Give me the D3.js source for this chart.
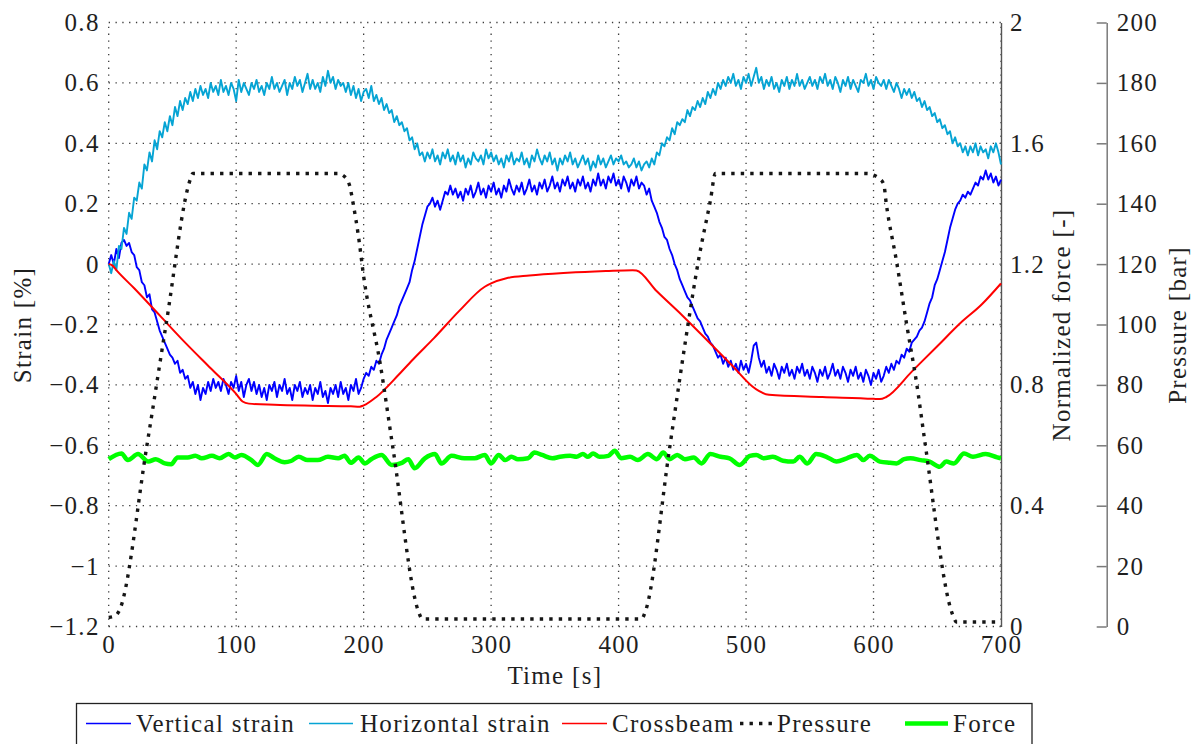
<!DOCTYPE html>
<html>
<head>
<meta charset="utf-8">
<script src="https://cdn.jsdelivr.net/npm/d3@7"></script>
<style>
  html, body { margin: 0; padding: 0; background: #fff; }
  svg { display: block; }
  svg text { font-family: "Liberation Serif", "DejaVu Serif", "Times New Roman", serif; letter-spacing: 1.3px; }
</style>
</head>
<body>
<svg id="chart" width="1199" height="744"></svg>
<script>
// ---- tick values ----
const timeTicks = [0, 100, 200, 300, 400, 500, 600, 700];
const strainTicks = [-1.2, -1, -0.8, -0.6, -0.4, -0.2, 0, 0.2, 0.4, 0.6, 0.8];
const forceTicks = [0, 0.4, 0.8, 1.2, 1.6, 2];
const pressureTicks = [0, 20, 40, 60, 80, 100, 120, 140, 160, 180, 200];

// ---- measured signals: strain gauges sampled every 2 s from t = 0 ----
const sampleStep = 2;
const verticalStrain = [
  0.00,0.03,0.00,0.05,0.02, 0.07,0.08,0.06,0.07,0.04, 0.03,-0.01,-0.02,-0.06,-0.07, -0.11,-0.10,-0.15,-0.16,-0.19, -0.22,-0.24,-0.26,-0.28,-0.30,
  -0.31,-0.33,-0.32,-0.36,-0.35, -0.38,-0.37,-0.41,-0.39,-0.43, -0.40,-0.45,-0.41,-0.43,-0.39, -0.42,-0.38,-0.41,-0.39,-0.42, -0.38,-0.40,-0.43,-0.39,-0.41,
  -0.37,-0.42,-0.39,-0.44,-0.40, -0.38,-0.42,-0.39,-0.43,-0.40, -0.44,-0.41,-0.45,-0.40,-0.42, -0.39,-0.44,-0.40,-0.42,-0.38, -0.43,-0.41,-0.45,-0.40,-0.42,
  -0.39,-0.44,-0.41,-0.43,-0.40, -0.45,-0.41,-0.43,-0.39,-0.44, -0.42,-0.46,-0.41,-0.43,-0.40, -0.44,-0.39,-0.43,-0.41,-0.45, -0.40,-0.42,-0.38,-0.43,-0.41,
  -0.38,-0.36,-0.37,-0.34,-0.35, -0.32,-0.33,-0.30,-0.28,-0.25, -0.23,-0.21,-0.19,-0.17,-0.14, -0.12,-0.10,-0.08,-0.06,-0.02, 0.01,0.05,0.09,0.13,0.16,
  0.19,0.20,0.22,0.19,0.21, 0.18,0.21,0.24,0.23,0.26, 0.23,0.25,0.22,0.24,0.21, 0.25,0.23,0.26,0.22,0.24, 0.27,0.23,0.25,0.22,0.26,
  0.24,0.27,0.23,0.25,0.22, 0.26,0.24,0.28,0.25,0.23, 0.26,0.24,0.27,0.23,0.25, 0.28,0.24,0.26,0.23,0.27, 0.25,0.28,0.24,0.26,0.29,
  0.25,0.27,0.24,0.28,0.26, 0.29,0.25,0.27,0.24,0.28, 0.26,0.29,0.25,0.27,0.24, 0.28,0.26,0.30,0.26,0.28, 0.25,0.29,0.27,0.30,0.26,
  0.28,0.25,0.29,0.27,0.24, 0.28,0.26,0.29,0.25,0.27, 0.26,0.23,0.25,0.21,0.19, 0.17,0.14,0.12,0.09,0.08, 0.05,0.03,0.00,-0.02,-0.05,
  -0.07,-0.09,-0.11,-0.12,-0.14, -0.16,-0.18,-0.19,-0.21,-0.23, -0.24,-0.26,-0.27,-0.29,-0.31, -0.30,-0.33,-0.31,-0.34,-0.32, -0.35,-0.33,-0.36,-0.32,-0.35,
  -0.33,-0.36,-0.32,-0.27,-0.26, -0.31,-0.34,-0.32,-0.36,-0.34, -0.37,-0.33,-0.35,-0.38,-0.34, -0.36,-0.33,-0.37,-0.35,-0.38, -0.34,-0.36,-0.33,-0.37,-0.35,
  -0.38,-0.34,-0.36,-0.39,-0.35, -0.37,-0.34,-0.38,-0.36,-0.33, -0.37,-0.35,-0.38,-0.34,-0.36, -0.39,-0.35,-0.37,-0.34,-0.38, -0.36,-0.39,-0.35,-0.37,-0.40,
  -0.36,-0.38,-0.35,-0.39,-0.37, -0.34,-0.36,-0.33,-0.35,-0.32, -0.33,-0.30,-0.31,-0.28,-0.29, -0.26,-0.25,-0.24,-0.22,-0.21, -0.19,-0.16,-0.13,-0.11,-0.07,
  -0.05,-0.02,0.01,0.04,0.08, 0.12,0.15,0.18,0.20,0.21, 0.23,0.22,0.24,0.23,0.25, 0.27,0.26,0.29,0.28,0.31, 0.28,0.30,0.27,0.29,0.26,
  0.28
];
const horizontalStrain = [
  0.00,-0.03,0.01,-0.02,0.06, 0.05,0.12,0.10,0.17,0.15, 0.22,0.21,0.27,0.25,0.33, 0.31,0.37,0.34,0.41,0.38, 0.44,0.42,0.47,0.44,0.49,
  0.46,0.52,0.49,0.54,0.51, 0.55,0.53,0.57,0.54,0.58, 0.55,0.59,0.56,0.58,0.55, 0.60,0.57,0.59,0.56,0.61, 0.57,0.59,0.56,0.60,0.58,
  0.54,0.61,0.57,0.60,0.58, 0.56,0.60,0.58,0.61,0.57, 0.59,0.56,0.60,0.58,0.62, 0.58,0.60,0.57,0.59,0.61, 0.56,0.60,0.58,0.62,0.59,
  0.61,0.57,0.60,0.63,0.58, 0.61,0.58,0.60,0.57,0.62, 0.59,0.64,0.60,0.62,0.58, 0.61,0.59,0.60,0.57,0.60, 0.56,0.59,0.55,0.58,0.54,
  0.57,0.58,0.55,0.59,0.54, 0.56,0.53,0.55,0.51,0.53, 0.50,0.51,0.47,0.49,0.46, 0.47,0.44,0.45,0.41,0.42, 0.38,0.40,0.36,0.37,0.34,
  0.37,0.35,0.38,0.34,0.36, 0.33,0.37,0.35,0.38,0.34, 0.36,0.33,0.37,0.34,0.36, 0.32,0.35,0.33,0.37,0.35, 0.34,0.36,0.33,0.38,0.35,
  0.37,0.34,0.36,0.33,0.35, 0.32,0.36,0.34,0.37,0.33, 0.35,0.34,0.37,0.33,0.35, 0.32,0.36,0.34,0.38,0.35, 0.33,0.36,0.34,0.37,0.33,
  0.35,0.31,0.35,0.33,0.36, 0.34,0.37,0.33,0.35,0.32, 0.34,0.36,0.33,0.35,0.31, 0.34,0.32,0.36,0.33,0.35, 0.32,0.34,0.36,0.33,0.35,
  0.34,0.36,0.33,0.34,0.32, 0.33,0.35,0.32,0.34,0.31, 0.33,0.34,0.32,0.35,0.33, 0.37,0.36,0.40,0.39,0.42, 0.41,0.45,0.43,0.47,0.46,
  0.48,0.47,0.51,0.49,0.52, 0.51,0.54,0.52,0.55,0.53, 0.57,0.55,0.58,0.56,0.60, 0.58,0.61,0.59,0.62,0.60, 0.63,0.59,0.61,0.58,0.62,
  0.60,0.63,0.59,0.62,0.65, 0.60,0.62,0.58,0.61,0.59, 0.62,0.58,0.60,0.57,0.61, 0.59,0.62,0.58,0.61,0.59, 0.63,0.59,0.61,0.58,0.60,
  0.62,0.59,0.61,0.58,0.62, 0.60,0.63,0.59,0.61,0.58, 0.62,0.60,0.57,0.61,0.59, 0.62,0.58,0.61,0.59,0.57, 0.61,0.60,0.63,0.59,0.61,
  0.58,0.62,0.60,0.59,0.61, 0.58,0.61,0.59,0.57,0.60, 0.58,0.55,0.58,0.56,0.58, 0.55,0.57,0.54,0.55,0.52, 0.54,0.51,0.52,0.49,0.50,
  0.47,0.48,0.45,0.46,0.43, 0.44,0.40,0.42,0.39,0.40, 0.37,0.39,0.36,0.39,0.37, 0.40,0.36,0.39,0.37,0.38, 0.35,0.39,0.37,0.40,0.37,
  0.33
];

// ---- crossbeam strain (smooth) ----
const crossbeamTime = [0, 3, 6, 20, 40, 60, 80, 100, 105, 110, 130, 160, 190, 197, 200, 210, 228, 240, 255, 275, 295, 300, 312, 330, 360, 390, 411, 414, 430, 450, 464, 490, 505, 510, 518, 560, 600, 605, 610, 630, 650, 668, 685, 700];
const crossbeamStrain = [0, -0.005, -0.02, -0.08, -0.17, -0.26, -0.345, -0.43, -0.455, -0.462, -0.466, -0.469, -0.471, -0.472, -0.468, -0.44, -0.364, -0.31, -0.246, -0.155, -0.075, -0.064, -0.047, -0.038, -0.029, -0.023, -0.02, -0.021, -0.09, -0.17, -0.229, -0.34, -0.405, -0.42, -0.433, -0.44, -0.446, -0.447, -0.44, -0.356, -0.272, -0.196, -0.133, -0.064];

// ---- hydraulic pressure [bar] ----
const pressureTime = [0, 5, 8, 30, 45, 64, 66, 180, 185, 189, 192, 196, 200, 213, 223, 243, 246, 418, 421, 440, 453, 463, 472, 476, 595, 600, 604, 608, 610, 618, 626, 634, 640, 662, 665, 700];
const pressureBar = [3, 3.5, 5, 60, 100, 148, 150, 150, 149, 146, 139.5, 129, 116, 87, 59, 5, 2.5, 2.5, 5, 59, 96, 122, 141, 150, 150, 149.5, 148.5, 146.5, 140, 121, 100, 80, 62, 4, 1.5, 1.5];

// ---- normalized force [-] ----
const forceTime = [0, 10, 15, 23, 31, 37, 44, 49, 54, 62, 68, 73, 81, 87, 94, 99, 104, 112, 117, 124, 130, 138, 143, 149, 156, 164, 172, 180, 185, 190, 196, 201, 206, 214, 222, 230, 235, 240, 248, 256, 261, 269, 279, 287, 295, 300, 306, 311, 316, 321, 329, 334, 340, 348,
  354, 362, 367, 372, 376, 380, 385, 392, 397, 402, 409, 415, 423, 430, 435, 440, 446, 452, 459, 465, 472, 480, 487, 495, 503, 508, 514, 521, 529, 537, 542, 548, 555, 563, 571, 579, 587, 592, 597, 605, 613, 618, 624, 629, 637, 644, 652, 657, 663, 671, 678, 688, 697, 700];
const forceNormalized = [0.554,0.573,0.551,0.571,0.546,0.554,0.540,0.537,0.560,0.560, 0.565,0.557,0.565,0.557,0.571,0.560,0.568,0.551,0.535,0.571, 0.557,0.544,0.548,0.562,0.551,0.551,0.562,0.557,0.565,0.542, 0.560,0.540,0.554,0.568,0.535,0.542,0.554,0.524,0.557,0.571, 0.540,0.565,0.557,0.557,0.568,0.540,0.568,0.551,0.562,0.554, 0.557,0.576,0.568,0.557,
  0.562,0.565,0.562,0.571,0.562,0.573,0.562,0.565,0.582,0.557, 0.562,0.551,0.571,0.554,0.576,0.554,0.568,0.554,0.560,0.540, 0.571,0.562,0.557,0.535,0.565,0.568,0.557,0.562,0.549,0.546, 0.562,0.540,0.571,0.562,0.546,0.557,0.568,0.551,0.565,0.546, 0.542,0.540,0.554,0.557,0.551,0.546,0.529,0.546,0.540,0.573, 0.562,0.571,0.560,0.557];

const legendLabels = ["Vertical strain", "Horizontal strain", "Crossbeam", "Pressure", "Force"];

// ---- layout ----
const svg = d3.select("#chart");
const P = { left: 108.7, right: 1001, top: 22.5, bottom: 626.5 };
const FONT = 25;
const INK = "#1f1f1f";
const SERIF = "'Liberation Serif', 'DejaVu Serif', serif";

const x = d3.scaleLinear([0, 700], [P.left, P.right]);
const yStrain = d3.scaleLinear([-1.2, 0.8], [P.bottom, P.top]);
const yForce = d3.scaleLinear([0, 2], [P.bottom, P.top]);
const yPressure = d3.scaleLinear([0, 200], [P.bottom, P.top]);
const num = d => String(+d.toFixed(2)).replace("-", "\u2212");

// dotted grid
const grid = svg.append("g")
  .attr("stroke", "#3c3c3c").attr("stroke-width", 1.3)
  .attr("stroke-dasharray", "1.3,5.5").attr("fill", "none");
grid.selectAll("line.v").data(timeTicks).join("line").attr("class", "v")
  .attr("x1", d => x(d)).attr("x2", d => x(d)).attr("y1", P.bottom).attr("y2", P.top);
grid.selectAll("line.h").data(strainTicks).join("line").attr("class", "h")
  .attr("x1", P.left).attr("x2", P.right).attr("y1", d => yStrain(d)).attr("y2", d => yStrain(d));

// force axis line on the right edge of the plot
const forceAxis = svg.append("g").attr("transform", `translate(${P.right},0)`)
  .call(d3.axisRight(yForce).tickValues(forceTicks).tickSize(0).tickSizeOuter(0).tickPadding(9).tickFormat(num));
forceAxis.select(".domain").attr("stroke", "#555").attr("stroke-width", 1.4);

// pressure axis
const pressureAxis = svg.append("g").attr("transform", `translate(1106.7,0)`)
  .call(d3.axisRight(yPressure).tickValues(pressureTicks).tickSize(-10).tickSizeOuter(0).tickPadding(10).tickFormat(num));
pressureAxis.select(".domain").attr("stroke", "#7a7a7a").attr("stroke-width", 1.5);
pressureAxis.selectAll(".tick line").attr("stroke", "#7a7a7a").attr("stroke-width", 1.5);

// strain axis (labels only)
const strainAxis = svg.append("g").attr("transform", `translate(${P.left},0)`)
  .call(d3.axisLeft(yStrain).tickValues(strainTicks).tickSize(0).tickPadding(9).tickFormat(num));
strainAxis.select(".domain").remove();

// time axis (labels only)
const timeAxis = svg.append("g").attr("transform", `translate(0,${P.bottom})`)
  .call(d3.axisBottom(x).tickValues(timeTicks).tickSize(0).tickPadding(9).tickFormat(num));
timeAxis.select(".domain").remove();

svg.selectAll("g").attr("font-family", SERIF);
svg.selectAll(".tick text").style("font-family", SERIF)
  .attr("font-size", FONT).attr("fill", INK);

// axis titles
const title = (txt, tx, ty, rot) => svg.append("text")
  .attr("transform", `translate(${tx},${ty}) rotate(${rot})`)
  .style("font-family", SERIF)
  .attr("text-anchor", "middle").attr("font-size", FONT).attr("fill", INK).text(txt);
title("Time [s]", (P.left + P.right) / 2, 684, 0);
title("Strain [%]", 31, 325, -90);
title("Normalized force [-]", 1070, 325, -90);
title("Pressure [bar]", 1186, 325, -90);

// series
const tOf = (d, i) => x(i * sampleStep);
const lineV = d3.line().x(tOf).y(d => yStrain(d));
svg.append("path").datum(verticalStrain).attr("d", lineV)
  .attr("fill", "none").attr("stroke", "#0000ff").attr("stroke-width", 1.9).attr("stroke-linejoin", "round");
svg.append("path").datum(horizontalStrain).attr("d", lineV)
  .attr("fill", "none").attr("stroke", "#06a4d4").attr("stroke-width", 1.9).attr("stroke-linejoin", "round");

svg.append("path").datum(d3.zip(crossbeamTime, crossbeamStrain))
  .attr("d", d3.line().x(d => x(d[0])).y(d => yStrain(d[1])).curve(d3.curveMonotoneX))
  .attr("fill", "none").attr("stroke", "#ff0000").attr("stroke-width", 2);

svg.append("path").datum(d3.zip(forceTime, forceNormalized))
  .attr("d", d3.line().x(d => x(d[0])).y(d => yForce(d[1])).curve(d3.curveMonotoneX))
  .attr("fill", "none").attr("stroke", "#00ff00").attr("stroke-width", 4.5).attr("stroke-linejoin", "round");

svg.append("path").datum(d3.zip(pressureTime, pressureBar))
  .attr("d", d3.line().x(d => x(d[0])).y(d => yPressure(d[1])).curve(d3.curveMonotoneX))
  .attr("fill", "none").attr("stroke", "#151515").attr("stroke-width", 3.4)
  .attr("stroke-dasharray", "3.4,6.1");

// legend
const legend = svg.append("g");
legend.append("rect").attr("x", 76.5).attr("y", 703.5).attr("width", 955.5).attr("height", 60)
  .attr("fill", "#fff").attr("stroke", "#222").attr("stroke-width", 1.3);
const legendStyle = [
  { x1: 86, x2: 131, tx: 136, color: "#0000ff", w: 1.7, dash: null },
  { x1: 309, x2: 353, tx: 360, color: "#06a4d4", w: 1.7, dash: null },
  { x1: 562, x2: 607, tx: 612, color: "#ff0000", w: 1.7, dash: null },
  { x1: 740, x2: 773, tx: 777, color: "#151515", w: 3.4, dash: "3.4,6.1" },
  { x1: 905, x2: 948, tx: 953, color: "#00ff00", w: 4.5, dash: null }
];
legendLabels.forEach((lab, i) => {
  const s = legendStyle[i];
  legend.append("line").attr("x1", s.x1).attr("x2", s.x2).attr("y1", 723.5).attr("y2", 723.5)
    .attr("stroke", s.color).attr("stroke-width", s.w).attr("stroke-dasharray", s.dash);
  legend.append("text").attr("x", s.tx).attr("y", 731.5).attr("font-size", FONT)
    .style("font-family", SERIF).attr("fill", INK).text(lab);
});
</script>
</body>
</html>
